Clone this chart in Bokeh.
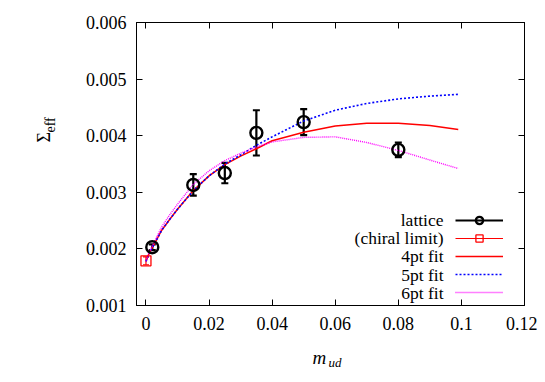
from bokeh.plotting import figure
from bokeh.layouts import row, column
from bokeh.models import (ColumnDataSource, Whisker, TeeHead, Legend, LegendItem,
                          LinearAxis, FixedTicker, Range1d, Label, CustomLabelingPolicy)
from bokeh.embed import file_html
from bokeh.resources import INLINE
import math

# ---- data ----
lat_x = [0.002, 0.015, 0.025, 0.035, 0.05, 0.08]
lat_y = [0.00203, 0.00313, 0.00334, 0.00405, 0.00424, 0.00375]
lat_err = [0.00005, 0.00019, 0.00018, 0.00040, 0.00023, 0.00013]

chi_x = [0.0]
chi_y = [0.00179]
chi_err = [0.00007]

fit_x = [0, 0.001, 0.0025, 0.005, 0.0075, 0.01, 0.015, 0.02, 0.025, 0.03,
         0.035, 0.04, 0.05, 0.06, 0.07, 0.08, 0.09, 0.099]
fit4_y = [0.00178, 0.00192, 0.00207, 0.00233, 0.00252, 0.00270, 0.00303, 0.00329,
          0.00349, 0.00364, 0.00377, 0.00391, 0.00406, 0.00417, 0.00422, 0.00422,
          0.00418, 0.00411]
fit5_y = [0.00178, 0.00192, 0.00207, 0.00233, 0.00252, 0.00270, 0.00303, 0.00329,
          0.00350, 0.00366, 0.00383, 0.00398, 0.00426, 0.00445, 0.00457, 0.00465,
          0.00470, 0.00473]
fit6_y = [0.00178, 0.00194, 0.00211, 0.00239, 0.00260, 0.00279, 0.00314, 0.00338,
          0.00356, 0.00369, 0.00380, 0.00389, 0.00397, 0.00398, 0.00388, 0.00374,
          0.00357, 0.00342]

x_ticks = [0, 0.02, 0.04, 0.06, 0.08, 0.1, 0.12]
x_tick_labels = ["0", "0.02", "0.04", "0.06", "0.08", "0.1", "0.12"]
y_ticks = [0.001, 0.002, 0.003, 0.004, 0.005, 0.006]
y_tick_labels = ["0.001", "0.002", "0.003", "0.004", "0.005", "0.006"]

labels = ["lattice", "(chiral limit)", "4pt fit", "5pt fit", "6pt fit"]

FONT = "Liberation Serif"
FS = "18px"
LEFT_W = 60

p = figure(frame_width=388, frame_height=283, output_backend="svg",
           toolbar_location=None,
           x_range=Range1d(-0.003, 0.12), y_range=Range1d(0.001, 0.006),
           min_border_left=136 - LEFT_W, min_border_right=13, min_border_top=22,
           min_border_bottom=35)
p.xgrid.visible = False
p.ygrid.visible = False
p.outline_line_color = "black"
p.outline_line_width = 1
p.background_fill_color = "white"
p.border_fill_color = "white"

hide_all = CustomLabelingPolicy(
    code="for (const i of Array.from(indices)) indices.unset(i); return indices")

def style_axis(ax, ticks, tick_labels, show_labels, standoff):
    ax.ticker = FixedTicker(ticks=ticks)
    ax.major_label_overrides = {t: l for t, l in zip(ticks, tick_labels)}
    ax.major_tick_in = 6
    ax.major_tick_out = 0
    ax.minor_tick_line_color = None
    ax.axis_line_color = "black"
    ax.major_tick_line_color = "black"
    ax.major_label_text_font = FONT
    ax.major_label_text_color = "black"
    ax.major_label_standoff = standoff
    ax.major_label_text_font_size = FS
    if not show_labels:
        ax.major_label_policy = hide_all
        ax.major_label_text_font_size = "1px"
        ax.major_label_standoff = 0

style_axis(p.xaxis[0], x_ticks, x_tick_labels, True, 11)
style_axis(p.yaxis[0], y_ticks, y_tick_labels, True, 10)

top_ax = LinearAxis()
right_ax = LinearAxis()
style_axis(top_ax, x_ticks, x_tick_labels, False, 0)
style_axis(right_ax, y_ticks, y_tick_labels, False, 0)
p.add_layout(top_ax, "above")
p.add_layout(right_ax, "right")

# ---- error bars ----
lat_src = ColumnDataSource(dict(x=lat_x, y=lat_y,
                                lo=[v - e for v, e in zip(lat_y, lat_err)],
                                hi=[v + e for v, e in zip(lat_y, lat_err)]))
chi_src = ColumnDataSource(dict(x=chi_x, y=chi_y,
                                lo=[v - e for v, e in zip(chi_y, chi_err)],
                                hi=[v + e for v, e in zip(chi_y, chi_err)]))

lat_seg = p.segment(x0="x", y0="lo", x1="x", y1="hi", source=lat_src,
                    line_color="black", line_width=2.2)
p.add_layout(Whisker(source=lat_src, base="x", lower="lo", upper="hi",
                     line_alpha=0,
                     upper_head=TeeHead(size=7, line_width=2.2, line_color="black"),
                     lower_head=TeeHead(size=7, line_width=2.2, line_color="black")))
chi_seg = p.segment(x0="x", y0="lo", x1="x", y1="hi", source=chi_src,
                    line_color="red", line_width=1.2)
p.add_layout(Whisker(source=chi_src, base="x", lower="lo", upper="hi",
                     line_alpha=0,
                     upper_head=TeeHead(size=6, line_width=1.2, line_color="red"),
                     lower_head=TeeHead(size=6, line_width=1.2, line_color="red")))

# ---- fits ----
r4 = p.line(fit_x, fit4_y, line_color="#ff0000", line_width=1.5)
r5 = p.line(fit_x, fit5_y, line_color="#0000ff", line_width=1.6, line_dash="2 2")
r6 = p.line(fit_x, fit6_y, line_color="#ff00ff", line_width=1.4, line_dash="1 1")

# ---- points ----
lat_pts = p.scatter("x", "y", source=lat_src, marker="circle", size=12,
                    fill_color=None, line_color="black", line_width=2.4)
chi_pts = p.scatter("x", "y", source=chi_src, marker="square", size=10,
                    fill_color=None, line_color="red", line_width=1.3)

# ---- legend: samples on the right (Legend), texts right-aligned to their left ----
legend = Legend(items=[
    LegendItem(label=" ", renderers=[lat_seg, lat_pts]),
    LegendItem(label=" ", renderers=[chi_seg, chi_pts]),
    LegendItem(label=" ", renderers=[r4]),
    LegendItem(label=" ", renderers=[r5]),
    LegendItem(label=" ", renderers=[r6]),
], location="bottom_right")
legend.background_fill_alpha = 0
legend.border_line_color = None
legend.label_text_font = FONT
legend.label_text_font_size = "17.5px"
legend.glyph_width = 48
legend.glyph_height = 18
legend.label_height = 18
legend.label_width = 17
legend.spacing = 0
legend.padding = 0
legend.label_standoff = 0
legend.margin = 4
p.add_layout(legend)

leg_y = [86, 68, 49.5, 31, 12.7]
for txt, yy in zip(labels, leg_y):
    p.add_layout(Label(x=307, y=yy, x_units="screen", y_units="screen", text=txt,
                       text_font=FONT, text_font_size="17.5px", text_color="black",
                       text_align="right", text_baseline="middle"))

# ---- axis titles, drawn inside small companion canvases ----
def title_fig(w, h):
    f = figure(width=w, height=h, output_backend="svg", toolbar_location=None,
               x_axis_type=None, y_axis_type=None, min_border=0,
               x_range=Range1d(0, 1), y_range=Range1d(0, 1))
    f.outline_line_color = None
    f.background_fill_color = "white"
    f.border_fill_color = "white"
    return f

left = title_fig(LEFT_W, 340)
left.add_layout(Label(x=43.5, y=163, x_units="screen", y_units="screen", text="Σ",
                      angle=math.pi / 2, text_font=FONT, text_font_size="18px",
                      text_align="left", text_baseline="alphabetic", text_color="black"))
left.add_layout(Label(x=50, y=173, x_units="screen", y_units="screen", text="eff",
                      angle=math.pi / 2, text_font=FONT, text_font_size="14px",
                      text_align="left", text_baseline="alphabetic", text_color="black"))

bottom = title_fig(537, 34)
bottom.add_layout(Label(x=312, y=17, x_units="screen", y_units="screen", text="m",
                        text_font=FONT, text_font_size="19px", text_font_style="italic",
                        text_align="left", text_baseline="alphabetic", text_color="black"))
bottom.add_layout(Label(x=328, y=12, x_units="screen", y_units="screen", text="ud",
                        text_font=FONT, text_font_size="13px", text_font_style="italic",
                        text_align="left", text_baseline="alphabetic", text_color="black"))

page = column(row(left, p, spacing=0), bottom, spacing=0)

open("out.html", "w").write(file_html(page, INLINE))
